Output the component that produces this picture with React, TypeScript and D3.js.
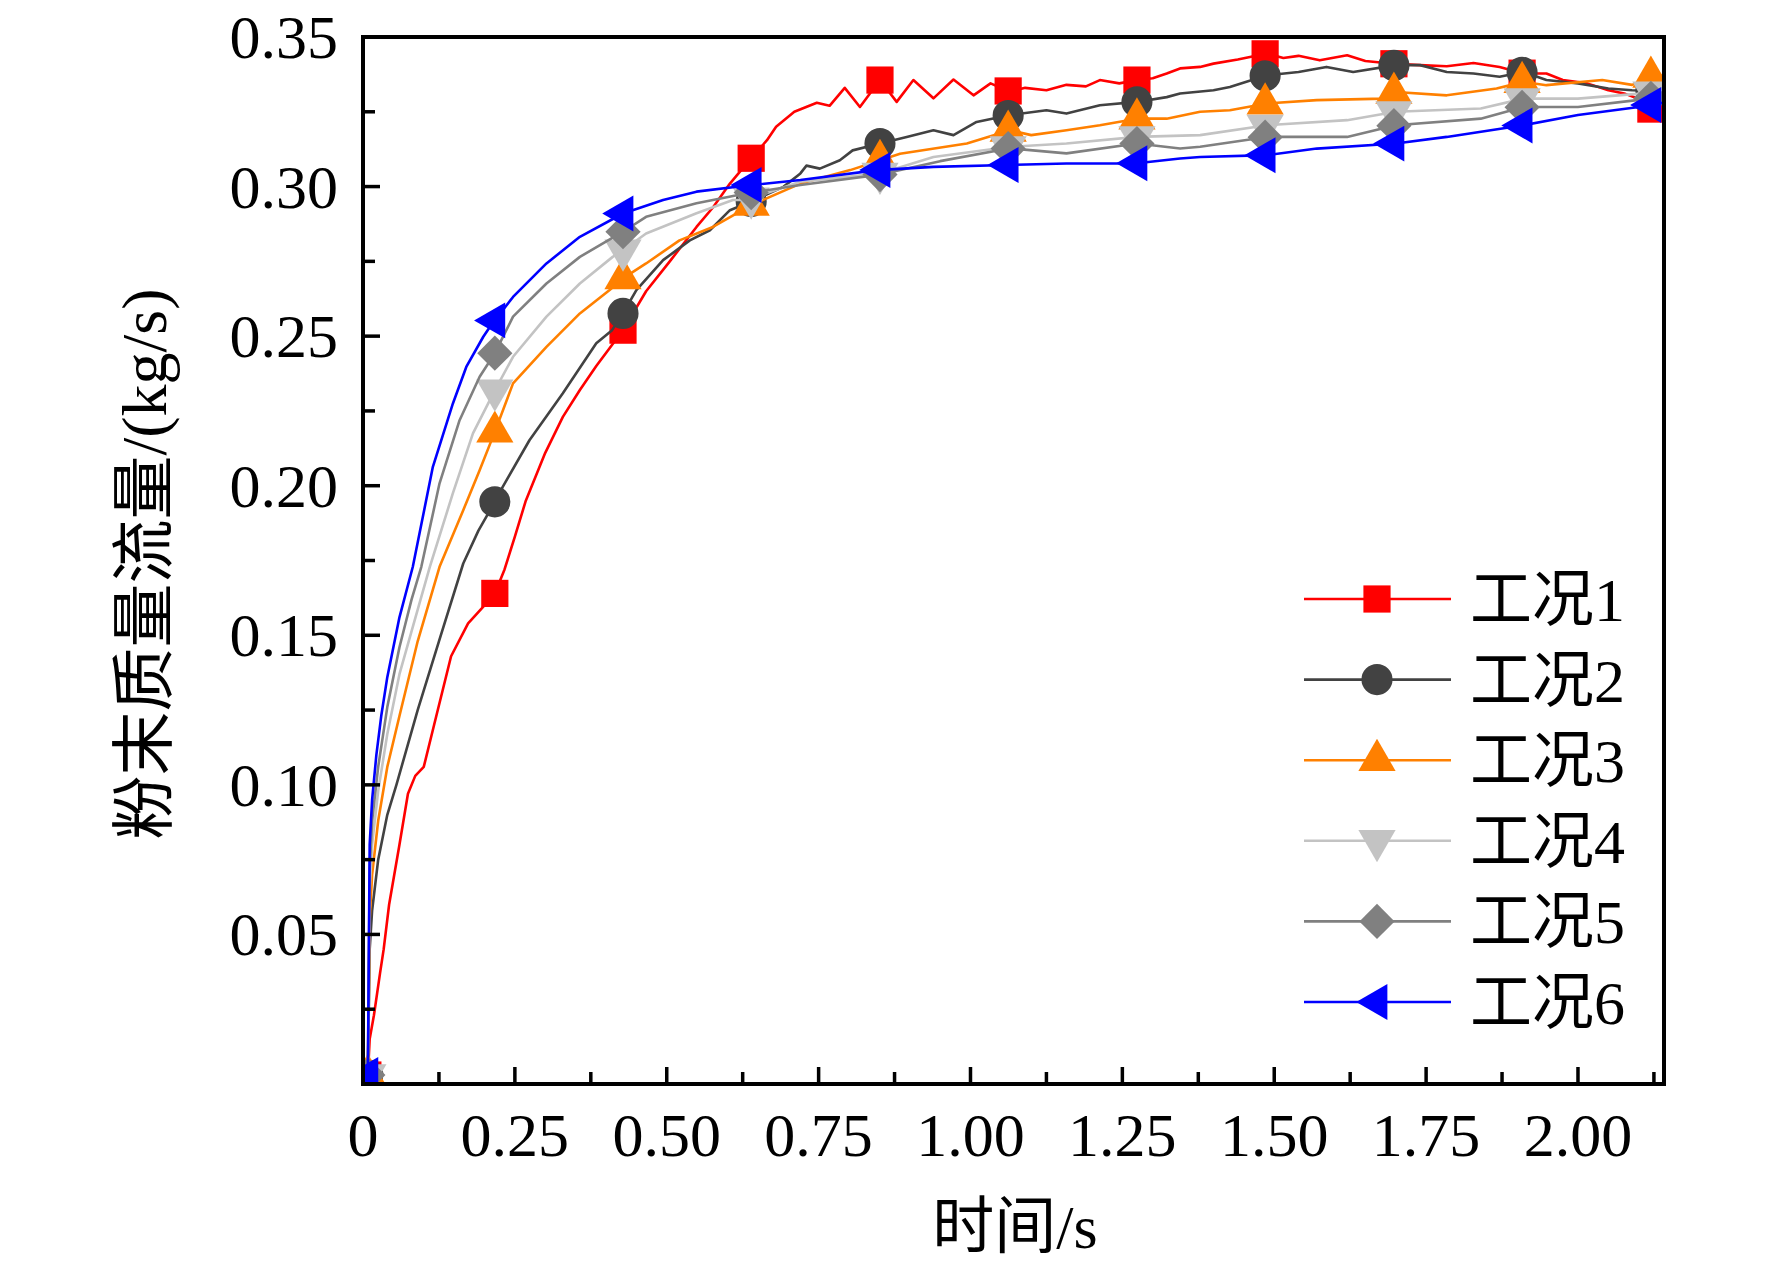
import React, { useRef, useEffect } from 'react';
import * as d3 from 'd3';

type Pt = [number, number]; // [time s, mass flow kg/s]

// 工况1
const case1: Pt[] = [
    [0, 0], [0.008, 0.003], [0.011, 0.015], [0.018, 0.023], [0.028, 0.037], [0.034, 0.045],
    [0.043, 0.06], [0.06, 0.08], [0.074, 0.097], [0.086, 0.103], [0.1, 0.106], [0.117, 0.12],
    [0.145, 0.143], [0.173, 0.154], [0.2, 0.16], [0.217, 0.164], [0.233, 0.172], [0.25, 0.183],
    [0.268, 0.195], [0.3, 0.211], [0.329, 0.223], [0.357, 0.232], [0.384, 0.24], [0.428, 0.252],
    [0.466, 0.265], [0.505, 0.275], [0.549, 0.2865], [0.576, 0.293], [0.604, 0.301], [0.637, 0.309],
    [0.665, 0.3155], [0.68, 0.32], [0.71, 0.325], [0.747, 0.328], [0.768, 0.327], [0.793, 0.333],
    [0.818, 0.3266], [0.851, 0.3356], [0.8785, 0.3283], [0.906, 0.3356], [0.939, 0.3295],
    [0.972, 0.3358], [1.005, 0.3305], [1.033, 0.3345], [1.065, 0.3317], [1.09, 0.333],
    [1.125, 0.3322], [1.158, 0.334], [1.19, 0.3335], [1.213, 0.3356], [1.245, 0.3345],
    [1.274, 0.3356], [1.3, 0.3362], [1.323, 0.3378], [1.345, 0.3395], [1.378, 0.34], [1.4, 0.3411],
    [1.44, 0.3425], [1.488, 0.3445], [1.515, 0.343], [1.54, 0.3437], [1.575, 0.3422], [1.62, 0.3439],
    [1.65, 0.342], [1.7, 0.341], [1.74, 0.3406], [1.784, 0.3402], [1.828, 0.3413], [1.871, 0.34],
    [1.91, 0.3378], [1.948, 0.3378], [1.975, 0.3356], [2.015, 0.3345], [2.05, 0.3322],
    [2.078, 0.331], [2.097, 0.3295], [2.118, 0.326], [2.14, 0.325],
];

// 工况2
const case2: Pt[] = [
    [0, 0], [0.008, 0.003], [0.011, 0.045], [0.015, 0.058], [0.025, 0.075], [0.04, 0.09],
    [0.055, 0.1], [0.09, 0.125], [0.125, 0.148], [0.165, 0.174], [0.19, 0.185], [0.217, 0.1946],
    [0.23, 0.1996], [0.274, 0.2152], [0.329, 0.2309], [0.384, 0.2476], [0.41, 0.252], [0.428, 0.2576],
    [0.45, 0.2654], [0.494, 0.2754], [0.538, 0.282], [0.571, 0.2854], [0.604, 0.2921], [0.639, 0.295],
    [0.692, 0.2999], [0.72, 0.3044], [0.73, 0.307], [0.752, 0.306], [0.785, 0.3088], [0.806, 0.3121],
    [0.851, 0.3144], [0.895, 0.3166], [0.939, 0.3188], [0.972, 0.3172], [1.01, 0.3216],
    [1.065, 0.3239], [1.125, 0.3255], [1.158, 0.3244], [1.213, 0.3272], [1.274, 0.3283],
    [1.323, 0.3299], [1.345, 0.3311], [1.4, 0.3322], [1.427, 0.3333], [1.488, 0.3372],
    [1.54, 0.3383], [1.586, 0.34], [1.63, 0.3383], [1.7, 0.3406], [1.74, 0.3406], [1.784, 0.3383],
    [1.828, 0.3378], [1.871, 0.3367], [1.91, 0.3383], [1.948, 0.3356], [2.0, 0.3345],
    [2.05, 0.3328], [2.089, 0.3322], [2.14, 0.332],
];

// 工况3
const case3: Pt[] = [
    [0, 0], [0.008, 0.003], [0.011, 0.055], [0.015, 0.07], [0.025, 0.088], [0.04, 0.106],
    [0.06, 0.123], [0.09, 0.148], [0.126, 0.1729], [0.165, 0.1918], [0.192, 0.2052], [0.217, 0.218],
    [0.247, 0.2342], [0.302, 0.2464], [0.357, 0.2576], [0.406, 0.2654], [0.428, 0.2693],
    [0.466, 0.2743], [0.521, 0.282], [0.576, 0.2865], [0.639, 0.2938], [0.72, 0.301],
    [0.802, 0.3055], [0.884, 0.311], [0.994, 0.3144], [1.065, 0.3188], [1.1, 0.3172],
    [1.158, 0.3188], [1.213, 0.3205], [1.274, 0.3227], [1.323, 0.3227], [1.378, 0.325],
    [1.427, 0.3255], [1.488, 0.3278], [1.57, 0.3289], [1.68, 0.3294], [1.7, 0.3316],
    [1.784, 0.3305], [1.866, 0.3328], [1.91, 0.335], [1.948, 0.3339], [2.04, 0.3356],
    [2.089, 0.334], [2.124, 0.337], [2.14, 0.337],
];

// 工况4
const case4: Pt[] = [
    [0, 0], [0.008, 0.003], [0.011, 0.065], [0.015, 0.08], [0.025, 0.098], [0.04, 0.117],
    [0.06, 0.137], [0.085, 0.155], [0.11, 0.1729], [0.148, 0.1975], [0.181, 0.2175],
    [0.217, 0.2319], [0.247, 0.2431], [0.302, 0.2565], [0.357, 0.2676], [0.411, 0.2765],
    [0.428, 0.2787], [0.466, 0.2843], [0.549, 0.2911], [0.609, 0.2955], [0.63, 0.2955],
    [0.72, 0.3016], [0.851, 0.3044], [0.939, 0.3099], [1.065, 0.3133], [1.158, 0.3144],
    [1.274, 0.3166], [1.378, 0.3172], [1.488, 0.3205], [1.62, 0.3222], [1.7, 0.325],
    [1.84, 0.3261], [1.91, 0.3294], [2.0, 0.3294], [2.097, 0.331], [2.14, 0.332],
];

// 工况5
const case5: Pt[] = [
    [0, 0], [0.008, 0.003], [0.011, 0.072], [0.015, 0.088], [0.025, 0.106], [0.04, 0.126],
    [0.06, 0.146], [0.08, 0.162], [0.096, 0.1729], [0.126, 0.2008], [0.159, 0.2219],
    [0.192, 0.2364], [0.217, 0.2443], [0.247, 0.2565], [0.302, 0.2676], [0.357, 0.2765],
    [0.428, 0.2849], [0.466, 0.2899], [0.549, 0.2944], [0.63, 0.2977], [0.72, 0.3005],
    [0.851, 0.304], [0.95, 0.3085], [1.065, 0.3128], [1.158, 0.3111], [1.274, 0.3144],
    [1.345, 0.3127], [1.378, 0.3133], [1.488, 0.3166], [1.62, 0.3166], [1.7, 0.3205],
    [1.84, 0.3227], [1.91, 0.3266], [2.0, 0.3266], [2.097, 0.3289], [2.14, 0.330],
];

// 工况6
const case6: Pt[] = [
    [0, 0], [0.008, 0.003], [0.011, 0.08], [0.015, 0.095], [0.022, 0.11], [0.03, 0.123],
    [0.04, 0.136], [0.06, 0.156], [0.082, 0.1729], [0.115, 0.2063], [0.148, 0.2275],
    [0.17, 0.2397], [0.198, 0.2498], [0.211, 0.2537], [0.247, 0.2631], [0.302, 0.2743],
    [0.357, 0.2832], [0.428, 0.291], [0.494, 0.2955], [0.549, 0.2983], [0.639, 0.3005],
    [0.72, 0.3022], [0.846, 0.3055], [0.939, 0.3066], [1.06, 0.3072], [1.158, 0.3077],
    [1.27, 0.3077], [1.345, 0.3094], [1.378, 0.3099], [1.488, 0.3105], [1.57, 0.3127],
    [1.7, 0.3144], [1.784, 0.3166], [1.91, 0.3205], [2.0, 0.3239], [2.1, 0.3266], [2.14, 0.328],
];

const seriesNames = ['工况1', '工况2', '工况3', '工况4', '工况5', '工况6'];
const seriesData = [case1, case2, case3, case4, case5, case6];
const seriesColors = ['#FF0000', '#424242', '#FF8000', '#C3C3C3', '#808080', '#0000FF'];
const seriesSymbols = ['square', 'circle', 'triangleUp', 'triangleDown', 'diamond', 'triangleLeft'];

// symbols sit on every Nth sample in the original, i.e. these times
const markerTimes = [0.008, 0.217, 0.428, 0.639, 0.851, 1.062, 1.274, 1.485, 1.697, 1.908, 2.12];

const xMajorTicks = [0, 0.25, 0.5, 0.75, 1.0, 1.25, 1.5, 1.75, 2.0];
const xTickLabels = ['0', '0.25', '0.50', '0.75', '1.00', '1.25', '1.50', '1.75', '2.00'];
const yMajorTicks = [0.05, 0.1, 0.15, 0.2, 0.25, 0.3, 0.35];
const yTickLabels = ['0.05', '0.10', '0.15', '0.20', '0.25', '0.30', '0.35'];

const W = 1772;
const H = 1269;
const FONT = "'Liberation Serif', 'Times New Roman', 'Noto Sans CJK SC', serif";

const symbolPath = (kind: string): { d: string; rotate: number } => {
    switch (kind) {
        case 'square':
            return { d: d3.symbol(d3.symbolSquare, 740)() ?? '', rotate: 0 };
        case 'circle':
            return { d: d3.symbol(d3.symbolCircle, 760)() ?? '', rotate: 0 };
        case 'triangleUp':
            return { d: d3.symbol(d3.symbolTriangle, 600)() ?? '', rotate: 0 };
        case 'triangleDown':
            return { d: d3.symbol(d3.symbolTriangle, 600)() ?? '', rotate: 180 };
        case 'diamond':
            return { d: d3.symbol(d3.symbolSquare, 620)() ?? '', rotate: 45 };
        default:
            return { d: d3.symbol(d3.symbolTriangle, 560)() ?? '', rotate: -90 };
    }
};

const valueAt = (pts: Pt[], t: number) => {
    const i = d3.bisector((p: Pt) => p[0]).left(pts, t);
    if (i <= 0) return pts[0][1];
    if (i >= pts.length) return pts[pts.length - 1][1];
    const [t0, v0] = pts[i - 1];
    const [t1, v1] = pts[i];
    return v0 + ((v1 - v0) * (t - t0)) / (t1 - t0);
};

const FlowChart: React.FC = () => {
    const svgRef = useRef<SVGSVGElement | null>(null);

    useEffect(() => {
        if (!svgRef.current) return;
        const svg = d3.select(svgRef.current);
        svg.selectAll('*').remove();

        const left = 363, right = 1664, top = 37, bottom = 1084;

        const x = d3.scaleLinear().domain([0, 2.1416]).range([left, right]);
        const y = d3.scaleLinear().domain([0, 0.35]).range([bottom, top]);

        svg.append('defs').append('clipPath').attr('id', 'plotClip')
            .append('rect')
            .attr('x', left).attr('y', top)
            .attr('width', right - left).attr('height', bottom - top);

        const plot = svg.append('g').attr('clip-path', 'url(#plotClip)');
        const line = d3.line<Pt>().x(d => x(d[0])).y(d => y(d[1]));

        seriesData.forEach((pts, i) => {
            plot.append('path')
                .datum(pts)
                .attr('d', line)
                .attr('fill', 'none')
                .attr('stroke', seriesColors[i])
                .attr('stroke-width', 2.6)
                .attr('stroke-linejoin', 'round');

            const sym = symbolPath(seriesSymbols[i]);
            plot.selectAll(`path.m${i}`)
                .data(markerTimes)
                .enter()
                .append('path')
                .attr('class', `m${i}`)
                .attr('d', sym.d)
                .attr('fill', seriesColors[i])
                .attr('transform', t => `translate(${x(t)},${y(valueAt(pts, t))}) rotate(${sym.rotate})`);
        });

        // frame
        svg.append('rect')
            .attr('x', left).attr('y', top)
            .attr('width', right - left).attr('height', bottom - top)
            .attr('fill', 'none').attr('stroke', '#000').attr('stroke-width', 4);

        // ticks (pointing inward)
        const xMinor = d3.range(0.125, 2.14, 0.25);
        const yMinor = d3.range(0.025, 0.35, 0.05);
        const ticks = svg.append('g').attr('stroke', '#000').attr('stroke-width', 3.5);
        xMajorTicks.forEach(t => ticks.append('line')
            .attr('x1', x(t)).attr('x2', x(t)).attr('y1', bottom).attr('y2', bottom - 17));
        xMinor.forEach(t => ticks.append('line')
            .attr('x1', x(t)).attr('x2', x(t)).attr('y1', bottom).attr('y2', bottom - 12));
        yMajorTicks.forEach(v => ticks.append('line')
            .attr('y1', y(v)).attr('y2', y(v)).attr('x1', left).attr('x2', left + 17));
        yMinor.forEach(v => ticks.append('line')
            .attr('y1', y(v)).attr('y2', y(v)).attr('x1', left).attr('x2', left + 12));

        // tick labels
        svg.append('g').selectAll('text')
            .data(xMajorTicks)
            .enter()
            .append('text')
            .attr('x', d => x(d))
            .attr('y', 1156)
            .attr('text-anchor', 'middle')
            .style('font-family', FONT)
            .style('font-size', '62px')
            .text((_, i) => xTickLabels[i]);

        svg.append('g').selectAll('text')
            .data(yMajorTicks)
            .enter()
            .append('text')
            .attr('x', 338)
            .attr('y', d => y(d) + 21)
            .attr('text-anchor', 'end')
            .style('font-family', FONT)
            .style('font-size', '62px')
            .text((_, i) => yTickLabels[i]);

        // axis titles
        svg.append('text')
            .attr('x', 1015)
            .attr('y', 1248)
            .attr('text-anchor', 'middle')
            .style('font-family', FONT)
            .style('font-size', '62px')
            .text('时间/s');

        svg.append('text')
            .attr('transform', 'translate(166,564) rotate(-90)')
            .attr('text-anchor', 'middle')
            .style('font-family', FONT)
            .style('font-size', '64px')
            .text('粉末质量流量/(kg/s)');

        // legend
        const legend = svg.append('g');
        seriesNames.forEach((name, i) => {
            const ly = 599 + i * 80.6;
            legend.append('line')
                .attr('x1', 1304).attr('x2', 1451)
                .attr('y1', ly).attr('y2', ly)
                .attr('stroke', seriesColors[i]).attr('stroke-width', 2.6);
            const sym = symbolPath(seriesSymbols[i]);
            legend.append('path')
                .attr('d', sym.d)
                .attr('fill', seriesColors[i])
                .attr('transform', `translate(1377,${ly}) rotate(${sym.rotate})`);
            legend.append('text')
                .attr('x', 1470)
                .attr('y', ly + 22)
                .style('font-family', FONT)
                .style('font-size', '62px')
                .text(name);
        });
    }, []);

    return (
        <svg
            ref={svgRef}
            width={W}
            height={H}
            style={{ position: 'absolute', left: 0, top: 0, background: '#fff' }}
        />
    );
};

export default function App() {
    return <FlowChart />;
}
